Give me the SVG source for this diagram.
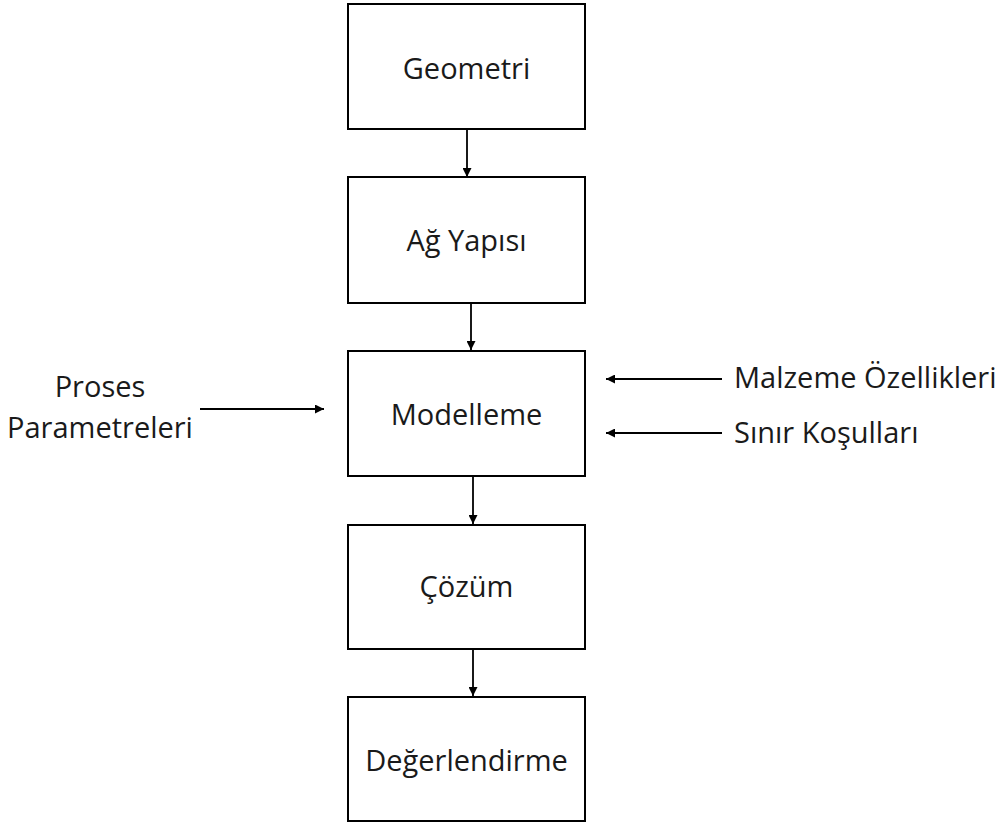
<svg xmlns="http://www.w3.org/2000/svg" width="1002" height="823" viewBox="0 0 1002 823">
<style>
.box{fill:#fff;stroke:#000;stroke-width:2}
.lbl{font-family:"Open Sans","Noto Sans","DejaVu Sans",sans-serif;font-size:29px;fill:#1a1a1a}
.c{text-anchor:middle}
.ln{stroke:#000;stroke-width:1.8;fill:none}
</style>
<defs>
<marker id="ah" viewBox="0 0 10 10" refX="10" refY="5" markerWidth="10" markerHeight="9" markerUnits="userSpaceOnUse" orient="auto">
<path d="M0,0 L10,5 L0,10 Z" fill="#000"/>
</marker>
</defs>
<rect width="1002" height="823" fill="#fff"/>
<g id="connectors">
<line class="ln" x1="467" y1="129" x2="467" y2="177" marker-end="url(#ah)"/>
<line class="ln" x1="471" y1="303" x2="471" y2="350" marker-end="url(#ah)"/>
<line class="ln" x1="473" y1="476" x2="473" y2="524" marker-end="url(#ah)"/>
<line class="ln" x1="473" y1="649" x2="473" y2="696" marker-end="url(#ah)"/>
<line class="ln" x1="200" y1="409" x2="324" y2="409" marker-end="url(#ah)"/>
<line class="ln" x1="722" y1="379" x2="606" y2="379" marker-end="url(#ah)"/>
<line class="ln" x1="722" y1="433" x2="606" y2="433" marker-end="url(#ah)"/>
</g>
<g id="geometri">
<rect class="box" x="348" y="4" width="237" height="125"/>
<text class="lbl c" x="466.5" y="79">Geometri</text>
</g>
<g id="ag-yapisi">
<rect class="box" x="348" y="177" width="237" height="126"/>
<text class="lbl c" x="466.5" y="251">Ağ Yapısı</text>
</g>
<g id="modelleme">
<rect class="box" x="348" y="351" width="237" height="125"/>
<text class="lbl c" x="466.5" y="425">Modelleme</text>
</g>
<g id="cozum">
<rect class="box" x="348" y="525" width="237" height="124"/>
<text class="lbl c" x="466.5" y="597">Çözüm</text>
</g>
<g id="degerlendirme">
<rect class="box" x="348" y="697" width="237" height="124"/>
<text class="lbl c" x="466.5" y="771">Değerlendirme</text>
</g>
<g id="proses-parametreleri">
<text class="lbl c" x="100" y="397">Proses</text>
<text class="lbl c" x="100" y="438">Parametreleri</text>
</g>
<g id="malzeme-ozellikleri">
<text class="lbl" x="734" y="388">Malzeme Özellikleri</text>
</g>
<g id="sinir-kosullari">
<text class="lbl" x="734" y="443">Sınır Koşulları</text>
</g>
</svg>
